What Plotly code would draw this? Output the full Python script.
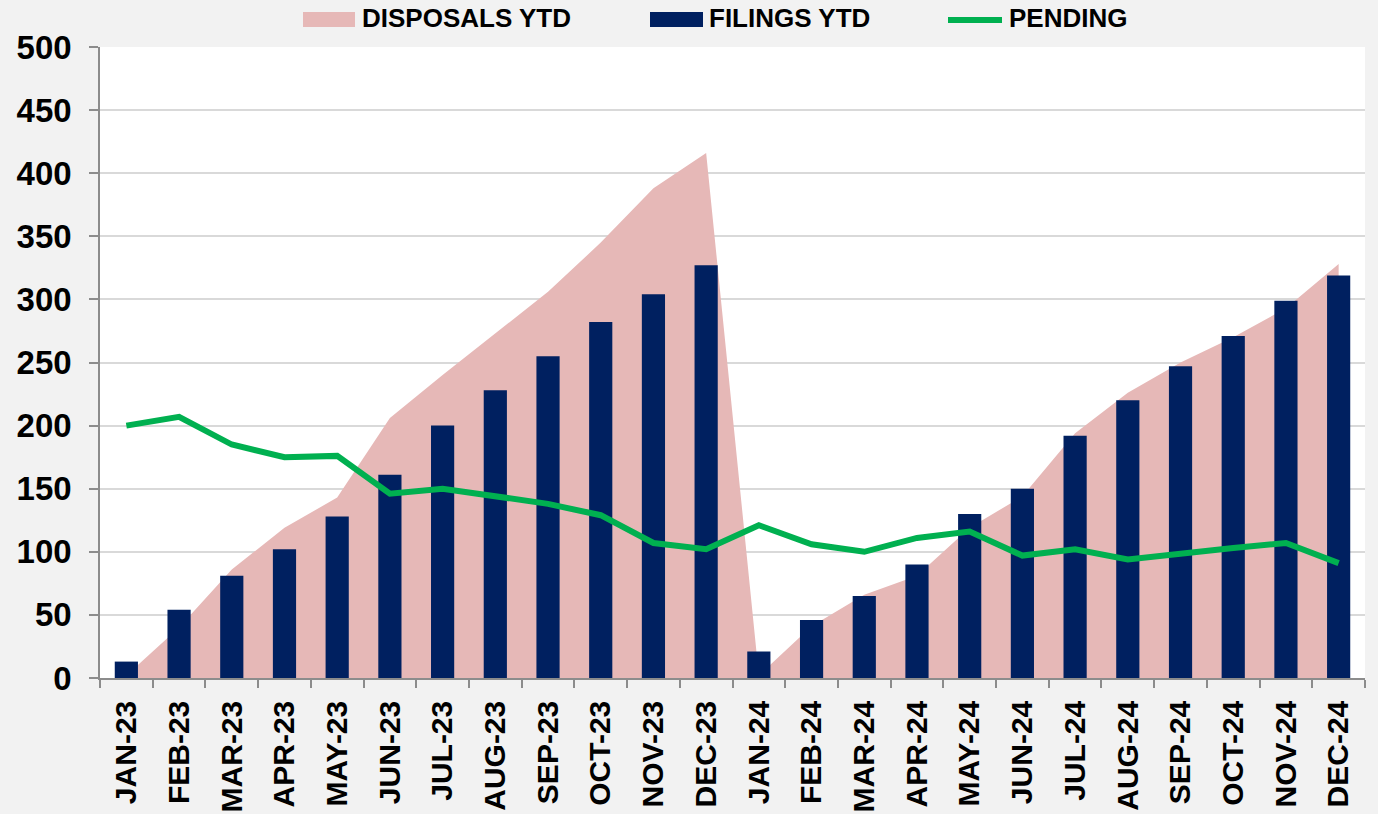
import plotly.graph_objects as go

months = ["JAN-23", "FEB-23", "MAR-23", "APR-23", "MAY-23", "JUN-23", "JUL-23", "AUG-23",
          "SEP-23", "OCT-23", "NOV-23", "DEC-23", "JAN-24", "FEB-24", "MAR-24", "APR-24",
          "MAY-24", "JUN-24", "JUL-24", "AUG-24", "SEP-24", "OCT-24", "NOV-24", "DEC-24"]
disposals_ytd = [2, 40, 86, 119, 143, 206, 240, 273, 306, 345, 388, 416,
                 2, 41, 66, 81, 119, 144, 194, 226, 250, 270, 293, 328]
filings_ytd = [13, 54, 81, 102, 128, 161, 200, 228, 255, 282, 304, 327,
               21, 46, 65, 90, 130, 150, 192, 220, 247, 271, 299, 319]
pending = [200, 207, 185, 175, 176, 146, 150, 144, 138, 129, 107, 102,
           121, 106, 100, 111, 116, 97, 102, 94, 99, 103, 107, 91]
y_ticks = [0, 50, 100, 150, 200, 250, 300, 350, 400, 450, 500]

PINK = "#e6b8b7"
NAVY = "#002060"
GREEN = "#00b050"
FONT = "Liberation Sans, Arial, sans-serif"

fig = go.Figure()
fig.add_trace(go.Scatter(x=months, y=disposals_ytd, mode="lines", fill="tozeroy",
                         fillcolor=PINK, line=dict(width=0, color=PINK),
                         name="DISPOSALS YTD", showlegend=False, xaxis="x", yaxis="y"))
fig.add_trace(go.Bar(x=months, y=filings_ytd, marker=dict(color=NAVY, line=dict(width=0)),
                     width=0.44, name="FILINGS YTD", showlegend=False, xaxis="x", yaxis="y2"))
fig.add_trace(go.Scatter(x=months, y=pending, mode="lines",
                         line=dict(color=GREEN, width=6), name="PENDING",
                         showlegend=False, xaxis="x", yaxis="y2"))

W, H = 1378, 814
L, T = 100, 47
R = W - 1365
B = H - 678
pw = W - L - R
ph = H - T - B

def px_x(p):
    return (p - L) / pw

def px_y(p):
    return (H - B - p) / ph

shapes = [
    dict(type="rect", xref="paper", yref="paper", x0=px_x(303), x1=px_x(355),
         y0=px_y(27), y1=px_y(12), fillcolor=PINK, line=dict(width=0)),
    dict(type="rect", xref="paper", yref="paper", x0=px_x(650), x1=px_x(703),
         y0=px_y(27), y1=px_y(12), fillcolor=NAVY, line=dict(width=0)),
    dict(type="line", xref="paper", yref="paper", x0=px_x(948), x1=px_x(1002),
         y0=px_y(20), y1=px_y(20), line=dict(color=GREEN, width=6)),
]
annotations = [
    dict(text=t, xref="paper", yref="paper", x=px_x(xp), y=px_y(18), xanchor="left",
         yanchor="middle", showarrow=False,
         font=dict(family=FONT, size=26, color="black", weight="bold"))
    for t, xp in [("DISPOSALS YTD", 360), ("FILINGS YTD", 707), ("PENDING", 1007)]
]

axis_grey = "#8c8c8c"
fig.update_layout(
    width=W, height=H,
    margin=dict(l=L, r=R, t=T, b=B, pad=0, autoexpand=False),
    paper_bgcolor="#f2f2f2",
    plot_bgcolor="white",
    showlegend=False,
    shapes=shapes,
    annotations=annotations,
    xaxis=dict(type="category", categoryorder="array", categoryarray=months,
               range=[-0.5, 23.5], showgrid=False, showline=True, linecolor=axis_grey,
               linewidth=1.5, ticks="outside", tickson="boundaries", ticklen=8,
               tickcolor=axis_grey, tickwidth=1.5, tickangle=-90,
               tickfont=dict(family=FONT, size=30, color="black", weight="bold"),
               ticklabelstandoff=9),
    yaxis=dict(range=[0, 500], tickvals=y_ticks, showgrid=True, gridcolor="#d9d9d9",
               gridwidth=1.5, showline=True, linecolor=axis_grey, linewidth=1.5,
               ticks="outside", ticklen=9, tickcolor=axis_grey, tickwidth=1.5,
               zeroline=False,
               tickfont=dict(family=FONT, size=33, color="black", weight="bold"),
               ticklabelstandoff=11),
    yaxis2=dict(range=[0, 500], overlaying="y", anchor="x", showgrid=False,
                showticklabels=False, showline=False, zeroline=False, ticks=""),
)

fig.write_html(
    "out.html",
    config={"displayModeBar": False},
    post_script="document.body.style.margin='0';document.body.style.overflow='hidden';",
)
